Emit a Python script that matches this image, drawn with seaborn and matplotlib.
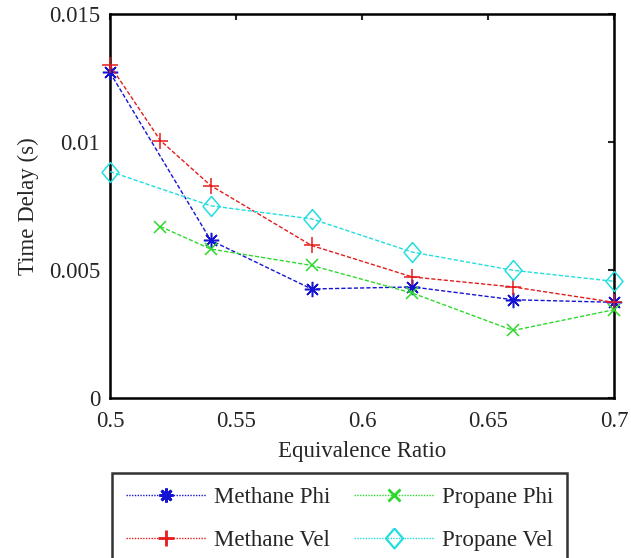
import matplotlib
matplotlib.use("Agg")
import matplotlib.pyplot as plt
import seaborn as sns
import pandas as pd
from matplotlib.lines import Line2D

# Data
x_methane = [0.50, 0.54, 0.58, 0.62, 0.66, 0.70]
methane_phi = [0.01272, 0.00616, 0.00426, 0.00434, 0.00384, 0.00374]
x_methane_vel = [0.50, 0.52, 0.54, 0.58, 0.62, 0.66, 0.70]
methane_vel = [0.01300, 0.01006, 0.00830, 0.00596, 0.00473, 0.00434, 0.00374]
x_propane_phi = [0.52, 0.54, 0.58, 0.62, 0.66, 0.70]
propane_phi = [0.00670, 0.00582, 0.00518, 0.00410, 0.00264, 0.00345]
x_propane_vel = [0.50, 0.54, 0.58, 0.62, 0.66, 0.70]
propane_vel = [0.00885, 0.00751, 0.00700, 0.00570, 0.00499, 0.00456]

x_ticks = [0.5, 0.55, 0.6, 0.65, 0.7]
x_tick_labels = ["0.5", "0.55", "0.6", "0.65", "0.7"]
y_ticks = [0, 0.005, 0.01, 0.015]
y_tick_labels = ["0", "0.005", "0.01", "0.015"]

sns.set_style("white")
plt.rcParams['font.family'] = ['Liberation Serif', 'DejaVu Serif']

FS = 16.5
fig = plt.figure(figsize=(6.31, 5.58), dpi=100)
ax = fig.add_axes([0.1743, 0.2867, 0.7987, 0.688])

diamond = [(0, 1), (0.85, 0), (0, -1), (-0.85, 0), (0, 1)]

series = [
    ("Methane Phi", x_methane, methane_phi, "#1414d2", (8, 2, 0), 11, 10),
    ("Methane Vel", x_methane_vel, methane_vel, "#e41c1c", "+", 11, 12),
    ("Propane Phi", x_propane_phi, propane_phi, "#2ed82e", "x", 8, 8.5),
    ("Propane Vel", x_propane_vel, propane_vel, "#22dede", diamond, 14.4, 14.4),
]

handles = []
for name, xs, ys, col, mk, ms, lms in series:
    df = pd.DataFrame({"x": xs, "y": ys})
    is_d = isinstance(mk, list)
    sns.lineplot(data=df, x="x", y="y", ax=ax, color=col, lw=1.0,
                 linestyle=(0, (3, 1.5)), marker=mk, markersize=ms,
                 markerfacecolor="none" if is_d else col,
                 markeredgecolor=col, markeredgewidth=1.1, legend=False,
                 clip_on=False, zorder=3)
    h = Line2D([], [], color=col, lw=1.0, linestyle=(0, (1, 1)),
               marker=mk, markersize=lms, markeredgewidth=2.0 if not is_d else 1.6,
               markerfacecolor="none" if is_d else col, markeredgecolor=col)
    handles.append((name, h))

ax.set_xlim(0.5, 0.7)
ax.set_ylim(0, 0.015)
ax.set_xticks(x_ticks)
ax.set_xticklabels(x_tick_labels)
ax.set_yticks(y_ticks)
ax.set_yticklabels(y_tick_labels)
ax.tick_params(direction="in", length=4, width=1.5, labelsize=FS, top=True, right=True,
               labeltop=False, labelright=False)
ax.tick_params(axis="x", pad=9)
ax.tick_params(axis="y", pad=7)
for s in ax.spines.values():
    s.set_linewidth(1.8)
    s.set_color("black")
ax.set_xlabel("Equivalence Ratio", fontsize=FS, labelpad=7)
ax.set_ylabel("Time Delay (s)", fontsize=FS, labelpad=7)

leg = fig.legend([h for _, h in handles], [n for n, _ in handles],
                 ncol=2, loc="upper left", bbox_to_anchor=(0.1775, 0.152),
                 fontsize=FS, frameon=True, fancybox=False, edgecolor="black",
                 handlelength=3.5, handletextpad=0.35, columnspacing=1.0,
                 labelspacing=0.95, borderpad=0.62, borderaxespad=0)
leg.get_frame().set_linewidth(1.8)

fig.savefig("out.png", dpi=100)
